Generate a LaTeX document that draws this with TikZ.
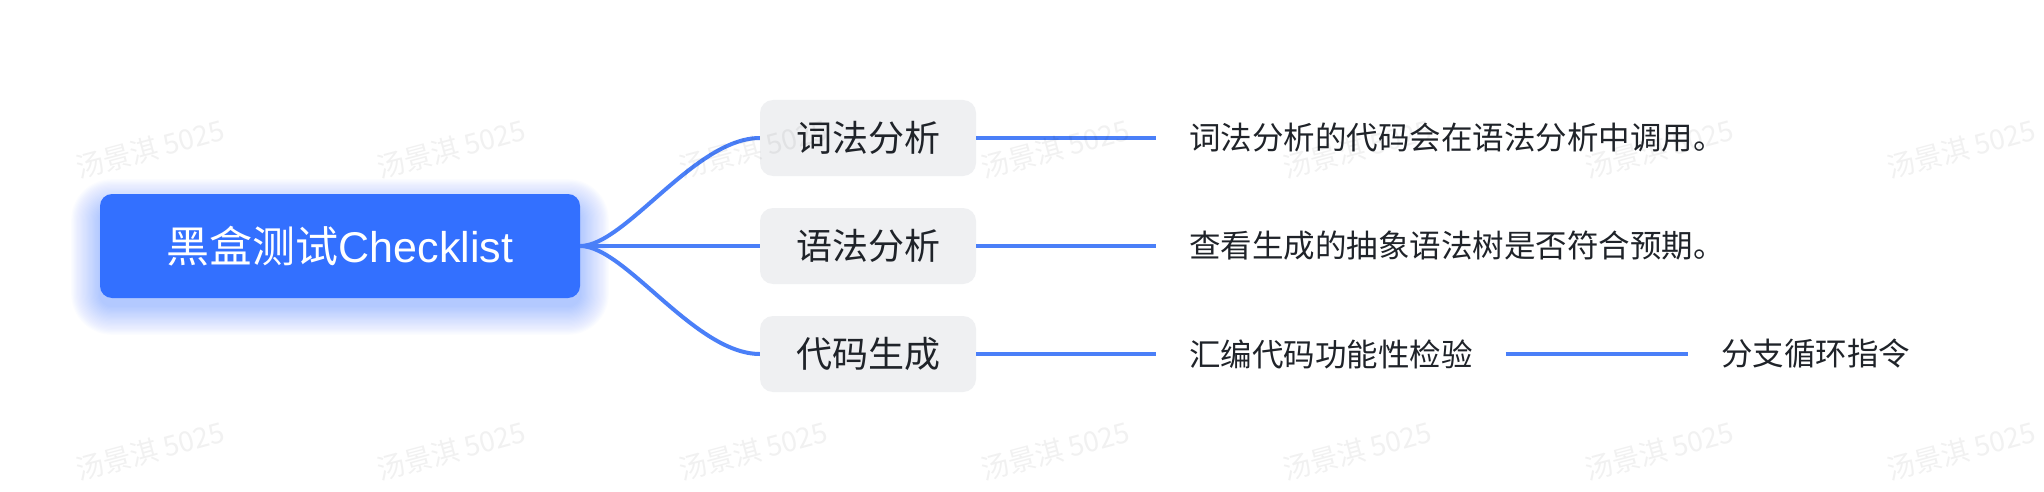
\documentclass[tikz,border=0pt]{standalone}
\usepackage{fontspec}
\setmainfont{Noto Sans CJK SC}
\newfontfamily\latfont{Liberation Sans}
\definecolor{rootblue}{HTML}{3370FF}
\definecolor{linkblue}{HTML}{4A7FF8}
\definecolor{topicgray}{HTML}{EFF0F2}
\definecolor{inkcol}{HTML}{1F2329}
\tikzset{
  rootbox/.style={fill=rootblue, rounded corners=12pt, minimum width=480pt, minimum height=104pt, inner sep=0pt, text=white, font=\fontsize{43}{50}\selectfont},
  topicbox/.style={fill=topicgray, rounded corners=13pt, minimum width=216pt, minimum height=76pt, inner sep=0pt, text=inkcol, font=\fontsize{36}{42}\selectfont},
  leafbox/.style={anchor=west, inner xsep=33pt, inner ysep=6pt, text=inkcol, font=\fontsize{31.5}{36}\selectfont},
  link/.style={draw=linkblue, line width=4pt},
  wmark/.style={text=black, text opacity=0.055, rotate=15, inner sep=0pt, font=\fontsize{28}{32}\selectfont}
}
\begin{document}
\begin{tikzpicture}[x=1pt,y=-1pt]
\fill[white] (0,0) rectangle (2044,492);
\useasboundingbox (0,0) rectangle (2044,492);
% glow of the root
\foreach \i in {1,...,24}{
  \fill[rootblue, opacity=0.014, rounded corners={12pt+1.2pt*\i}]
    (100-1.2*\i, 208-1.2*\i) rectangle (580+1.2*\i, 306+1.2*\i);
}
\node[rootbox] (root) at (340,246) {黑盒测试{\latfont Checklist}};
\node[topicbox] (t1) at (868,138) {词法分析};
\node[topicbox] (t2) at (868,246) {语法分析};
\node[topicbox] (t3) at (868,354) {代码生成};
\draw[link] (root.east) .. controls +(45,0) and +(-65,0) .. (t1.west);
\draw[link] (root.east) -- (t2.west);
\draw[link] (root.east) .. controls +(45,0) and +(-65,0) .. (t3.west);
\node[leafbox] (l1) at (1156,138) {词法分析的代码会在语法分析中调用。};
\node[leafbox] (l2) at (1156,246) {查看生成的抽象语法树是否符合预期。};
\node[leafbox] (l3) at (1156,354) {汇编代码功能性检验};
\node[leafbox] (l4) at (1688,354) {分支循环指令};
\draw[link] (t1.east) -- (l1.west);
\draw[link] (t2.east) -- (l2.west);
\draw[link] (t3.east) -- (l3.west);
\draw[link] (l3.east) -- (l4.west);
% watermarks
\foreach \wx [count=\k] in {150,451,753,1055,1357,1659,1961}{
  \node[wmark] (wa\k) at (\wx,149) {汤景淇 5025};
  \node[wmark] (wb\k) at (\wx,451) {汤景淇 5025};
}
\end{tikzpicture}
\end{document}
